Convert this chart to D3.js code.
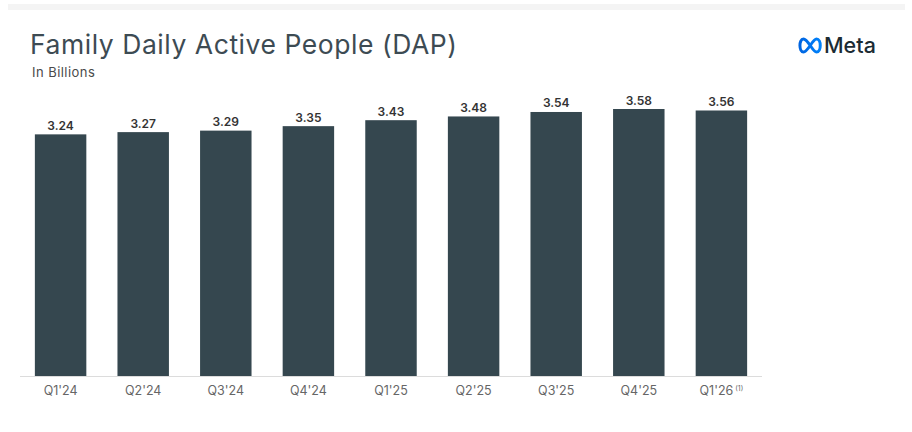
<!DOCTYPE html>
<html>
<head>
<meta charset="utf-8">
<script src="https://cdn.jsdelivr.net/npm/d3@7"></script>
<style>
  body { margin: 0; background: #fff; }
  svg { display: block; font-family: Inter, "Noto Sans", sans-serif; }
</style>
</head>
<body>
<svg id="chart"></svg>
<script>
const quarters = ["Q1'24", "Q2'24", "Q3'24", "Q4'24", "Q1'25", "Q2'25", "Q3'25", "Q4'25", "Q1'26"];
const dapBillions = [3.24, 3.27, 3.29, 3.35, 3.43, 3.48, 3.54, 3.58, 3.56];
const footnoted = ["Q1'26"];

const width = 912;
const height = 432;
const svg = d3.select('#chart')
  .attr('width', width)
  .attr('height', height);

// thin grey strip along the top
svg.append('rect')
  .attr('x', 8)
  .attr('y', 4)
  .attr('width', 897)
  .attr('height', 6)
  .attr('fill', '#f4f4f4');

svg.append('text')
  .attr('x', 30)
  .attr('y', 54)
  .attr('font-size', 26.5)
  .attr('letter-spacing', 0.55)
  .attr('fill', '#3d4b53')
  .text('Family Daily Active People (DAP)');

svg.append('text')
  .attr('x', 32)
  .attr('y', 77)
  .attr('font-size', 13)
  .attr('letter-spacing', 0.45)
  .attr('fill', '#4a4a4a')
  .text('In Billions');

// Meta logo
const logo = svg.append('g').attr('transform', 'translate(797,45.5)');
const grad = svg.append('defs').append('linearGradient')
  .attr('id', 'metaBlue')
  .attr('x1', '0%').attr('x2', '100%');
grad.append('stop').attr('offset', '0%').attr('stop-color', '#0064e0');
grad.append('stop').attr('offset', '100%').attr('stop-color', '#0082fb');
logo.append('path')
  .attr('d', 'M6.5,6.5 C2,6.5 1.5,-6.5 6.5,-6.5 C11,-6.5 15.5,6.5 19.5,6.5 C24.5,6.5 24.5,-6.5 19.5,-6.5 C15.5,-6.5 11,6.5 6.5,6.5 Z')
  .attr('fill', 'none')
  .attr('stroke', 'url(#metaBlue)')
  .attr('stroke-width', 3);
svg.append('text')
  .attr('x', 824)
  .attr('y', 52.5)
  .attr('font-size', 21.5)
  .attr('font-weight', 500)
  .attr('fill', '#1c2b33')
  .text('Meta');

const x = d3.scaleBand()
  .domain(quarters)
  .range([20, 762])
  .paddingInner(0.377)
  .paddingOuter(0.18);

const y = d3.scaleLinear()
  .domain([0, 3.58])
  .range([376, 109]);

svg.selectAll('.bar')
  .data(dapBillions)
  .join('rect')
    .attr('class', 'bar')
    .attr('x', (d, i) => x(quarters[i]))
    .attr('y', d => y(d))
    .attr('width', x.bandwidth())
    .attr('height', d => y(0) - y(d))
    .attr('fill', '#35474f');

svg.selectAll('.label-value')
  .data(dapBillions)
  .join('text')
    .attr('class', 'label-value')
    .attr('text-anchor', 'middle')
    .attr('x', (d, i) => x(quarters[i]) + x.bandwidth() / 2)
    .attr('y', d => y(d) - 4.5)
    .attr('font-size', 12)
    .attr('font-weight', 600)
    .attr('fill', '#333')
    .text(d => d.toFixed(2));

const axis = svg.append('g')
  .attr('transform', `translate(0,${y(0)})`)
  .call(d3.axisBottom(x).tickSize(0).tickPadding(10));
axis.select('.domain')
  .attr('d', 'M20,0.5H762')
  .attr('stroke', '#dcdcdc');
axis.selectAll('.tick text')
  .attr('font-family', 'Inter, "Noto Sans", sans-serif')
  .attr('font-size', 12.5)
  .attr('fill', '#666');

axis.selectAll('.tick')
  .filter(d => footnoted.includes(d))
  .select('text')
  .append('tspan')
    .attr('dy', '-0.5em')
    .attr('font-size', 7)
    .text(' (1)');
</script>
</body>
</html>
